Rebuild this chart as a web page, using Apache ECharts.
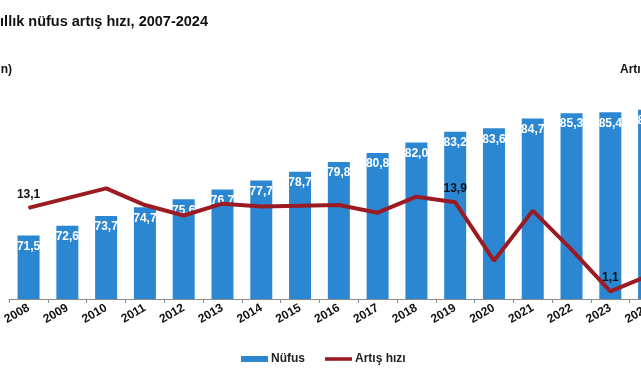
<!DOCTYPE html>
<html>
<head>
<meta charset="utf-8">
<script src="https://cdn.jsdelivr.net/npm/echarts@6/dist/echarts.min.js"></script>
<style>
html,body{margin:0;padding:0;background:#fff;overflow:hidden;width:641px;height:380px;}
#c{width:669px;height:380px;}
</style>
</head>
<body>
<div id="c"></div>
<script>
var years = ['2008','2009','2010','2011','2012','2013','2014','2015','2016','2017','2018','2019','2020','2021','2022','2023','2024'];
var population = [71.5,72.6,73.7,74.7,75.6,76.7,77.7,78.7,79.8,80.8,82.0,83.2,83.6,84.7,85.3,85.4,85.7];
var growthRate = [13.1,14.5,15.9,13.5,12.0,13.7,13.3,13.4,13.5,12.4,14.7,13.9,5.5,12.7,7.1,1.1,3.4];
var labelledRateYears = ['2008','2019','2023'];
var titleText = 'Nüfus ve yıllık nüfus artış hızı, 2007-2024';
var leftAxisName = 'Nüfus (Milyon)';
var rightAxisName = 'Artış hızı (‰)';

var fmt = function (v) { return v.toFixed(1).replace('.', ','); };
var font = 'Liberation Sans, Arial, sans-serif';

var rateData = growthRate.map(function (v, i) {
  var show = labelledRateYears.indexOf(years[i]) >= 0;
  return { value: v, label: { show: show } };
});

var chart = echarts.init(document.getElementById('c'), null, { renderer: 'canvas' });
chart.setOption({
  animation: false,
  backgroundColor: '#ffffff',
  graphic: [
    { type: 'text', x: 208, y: 22, style: { text: titleText, align: 'right', verticalAlign: 'middle', font: 'bold 14.5px ' + font, fill: '#111' } },
    { type: 'text', x: 12, y: 70, style: { text: leftAxisName, align: 'right', verticalAlign: 'middle', font: 'bold 12px ' + font, fill: '#111' } },
    { type: 'text', x: 620, y: 70, style: { text: rightAxisName, align: 'left', verticalAlign: 'middle', font: 'bold 12px ' + font, fill: '#111' } }
  ],
  legend: {
    left: 236, top: 348,
    itemWidth: 27, itemHeight: 6, itemGap: 20,
    textStyle: { fontFamily: font, fontWeight: 'bold', fontSize: 12, color: '#222', padding: [0, 0, 0, -2] },
    data: [
      { name: 'Nüfus', icon: 'rect' },
      { name: 'Artış hızı', icon: 'path://M0,0H30V4H0Z', itemStyle: { color: '#9B1B22' } }
    ]
  },
  grid: { left: 4, width: 664.5, top: 80, height: 219, containLabel: false },
  xAxis: {
    type: 'category', data: years, boundaryGap: true,
    axisLine: { show: true, lineStyle: { color: '#8c8c8c', width: 1 } },
    axisTick: { show: true, alignWithLabel: false, length: 4, lineStyle: { color: '#8c8c8c' } },
    axisLabel: { rotate: 30, margin: 8, fontFamily: font, fontWeight: 'bold', fontSize: 12, color: '#111', interval: 0 }
  },
  yAxis: [
    { type: 'value', min: 64.35, max: 89.04, show: false, splitLine: { show: false } },
    { type: 'value', min: 0, max: 31.47, show: false, splitLine: { show: false } }
  ],
  series: [
    {
      name: 'Nüfus', type: 'bar', data: population, yAxisIndex: 0,
      barWidth: 22,
      itemStyle: { color: '#2B87D2' },
      label: { show: true, position: 'insideTop', distance: 5, formatter: function (p) { return fmt(p.value); },
        fontFamily: font, fontWeight: 'bold', fontSize: 12, color: '#ffffff' }
    },
    {
      name: 'Artış hızı', type: 'line', data: rateData, yAxisIndex: 1,
      symbol: 'circle', symbolSize: 1, showSymbol: true,
      lineStyle: { color: '#9B1B22', width: 4 },
      itemStyle: { color: '#9B1B22' },
      z: 5,
      label: { show: false, position: 'top', distance: 7, formatter: function (p) { return fmt(p.value); },
        fontFamily: font, fontWeight: 'bold', fontSize: 12, color: '#111' }
    }
  ]
});
</script>
</body>
</html>
